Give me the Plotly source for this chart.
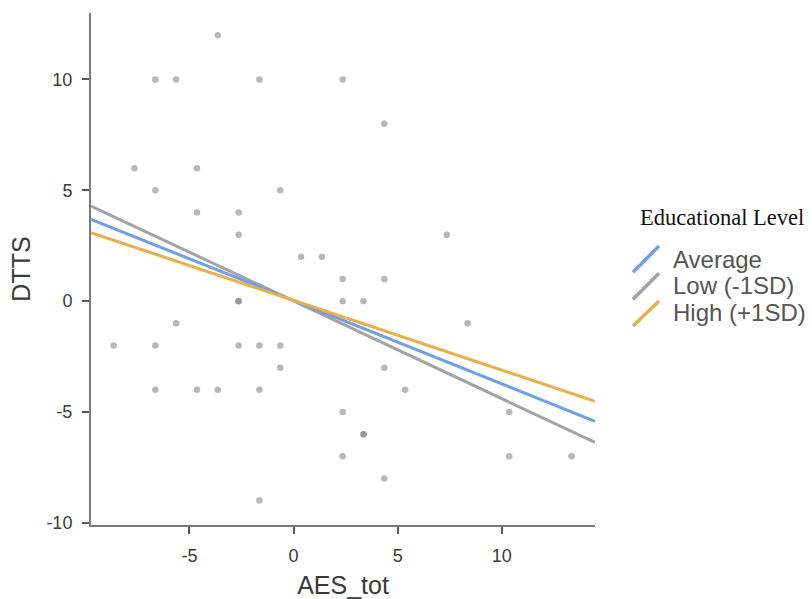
import plotly.graph_objects as go

# ---------------- data ----------------
aes_tot = [-3.64, -6.64, -5.64, -1.64, 2.36, 4.36, -7.64, -4.64, -6.64, -0.64,
           -4.64, -2.64, -2.64, 7.36, 0.36, 1.36, 2.36, 4.36, -2.64, -2.64,
           2.36, 3.36, -5.64, 8.36, -8.64, -6.64, -2.64, -1.64, -0.64, -0.64,
           4.36, -6.64, -4.64, -3.64, -1.64, 5.36, 2.36, 10.36, 3.36, 3.36,
           2.36, 10.36, 13.36, 4.36, -1.64]
dtts = [12, 10, 10, 10, 10, 8, 6, 6, 5, 5,
        4, 4, 3, 3, 2, 2, 1, 1, 0, 0,
        0, 0, -1, -1, -2, -2, -2, -2, -2, -3,
        -3, -4, -4, -4, -4, -4, -5, -5, -6, -6,
        -7, -7, -7, -8, -9]

line_x = [-9.73, 14.48]
line_average = [3.69, -5.42]
line_low = [4.29, -6.37]
line_high = [3.09, -4.52]

legend_labels = ["Average", "Low (-1SD)", "High (+1SD)"]
legend_title = "Educational Level"
x_ticks = [-5, 0, 5, 10]
x_tick_labels = ["-5", "0", "5", "10"]
y_ticks = [-10, -5, 0, 5, 10]
y_tick_labels = ["-10", "-5", "0", "5", "10"]

colors = {"Average": "#6e9fea", "Low (-1SD)": "#a3a3a3", "High (+1SD)": "#e8b049"}

# ---------------- layout geometry (pixels) ----------------
W, H = 812, 599
L, R, T, B = 91, 217, 13, 74
PW, PH = W - L - R, H - T - B


def px(xp):
    return (xp - L) / PW


def py(yp):
    return (H - B - yp) / PH


fig = go.Figure()
fig.add_trace(go.Scatter(
    x=aes_tot, y=dtts, mode="markers",
    marker=dict(size=6.5, color="rgba(125,125,125,0.55)", line=dict(width=0)),
    showlegend=False, hoverinfo="x+y"))

for name, ys in [("Low (-1SD)", line_low), ("Average", line_average), ("High (+1SD)", line_high)]:
    fig.add_trace(go.Scatter(x=line_x, y=ys, mode="lines", name=name,
                             line=dict(color=colors[name], width=3),
                             showlegend=False))

axis_common = dict(
    showline=True, linecolor="#7a7a7a", linewidth=2,
    ticks="outside", ticklen=7, tickwidth=2, tickcolor="#555",
    showgrid=False, zeroline=False, automargin=False,
    tickfont=dict(family="Arial", size=18, color="#3a3a3a"),
    ticklabelstandoff=6,
)

fig.update_layout(
    width=W, height=H,
    margin=dict(l=L, r=R, t=T, b=B, pad=0),
    paper_bgcolor="white", plot_bgcolor="white",
    xaxis=dict(range=[line_x[0], line_x[1]], tickvals=x_ticks, ticktext=x_tick_labels,
               title=dict(text="AES_tot", font=dict(family="Arial", size=25, color="#3a3a3a"), standoff=16),
               **axis_common),
    yaxis=dict(range=[-10.1, 13.0], tickvals=y_ticks, ticktext=y_tick_labels,
               title=dict(text="DTTS", font=dict(family="Arial", size=25, color="#3a3a3a"), standoff=9),
               **axis_common),
    showlegend=False,
)

# custom legend with diagonal line symbols
annotations = [dict(text=legend_title, xref="paper", yref="paper",
                    x=px(638), y=py(217), xanchor="left", yanchor="middle",
                    showarrow=False, font=dict(family="Liberation Serif", size=22.5, color="#111"))]
shapes = []
sym_rows = [(272.3, 246.0), (299.3, 273.3), (326.0, 301.0)]
text_y = [259, 285.5, 312]
for lab, (y0, y1), ty in zip(legend_labels, sym_rows, text_y):
    shapes.append(dict(type="line", xref="paper", yref="paper",
                       x0=px(633), y0=py(y0), x1=px(659), y1=py(y1),
                       line=dict(color=colors[lab], width=3.5)))
    annotations.append(dict(text=lab, xref="paper", yref="paper",
                            x=px(671), y=py(ty), xanchor="left", yanchor="middle",
                            showarrow=False, font=dict(family="Arial", size=24, color="#555")))

fig.update_layout(annotations=annotations, shapes=shapes)

fig.write_html("out.html", config={"displayModeBar": False},
               post_script="document.body.style.margin='0';document.body.style.overflow='hidden';")
